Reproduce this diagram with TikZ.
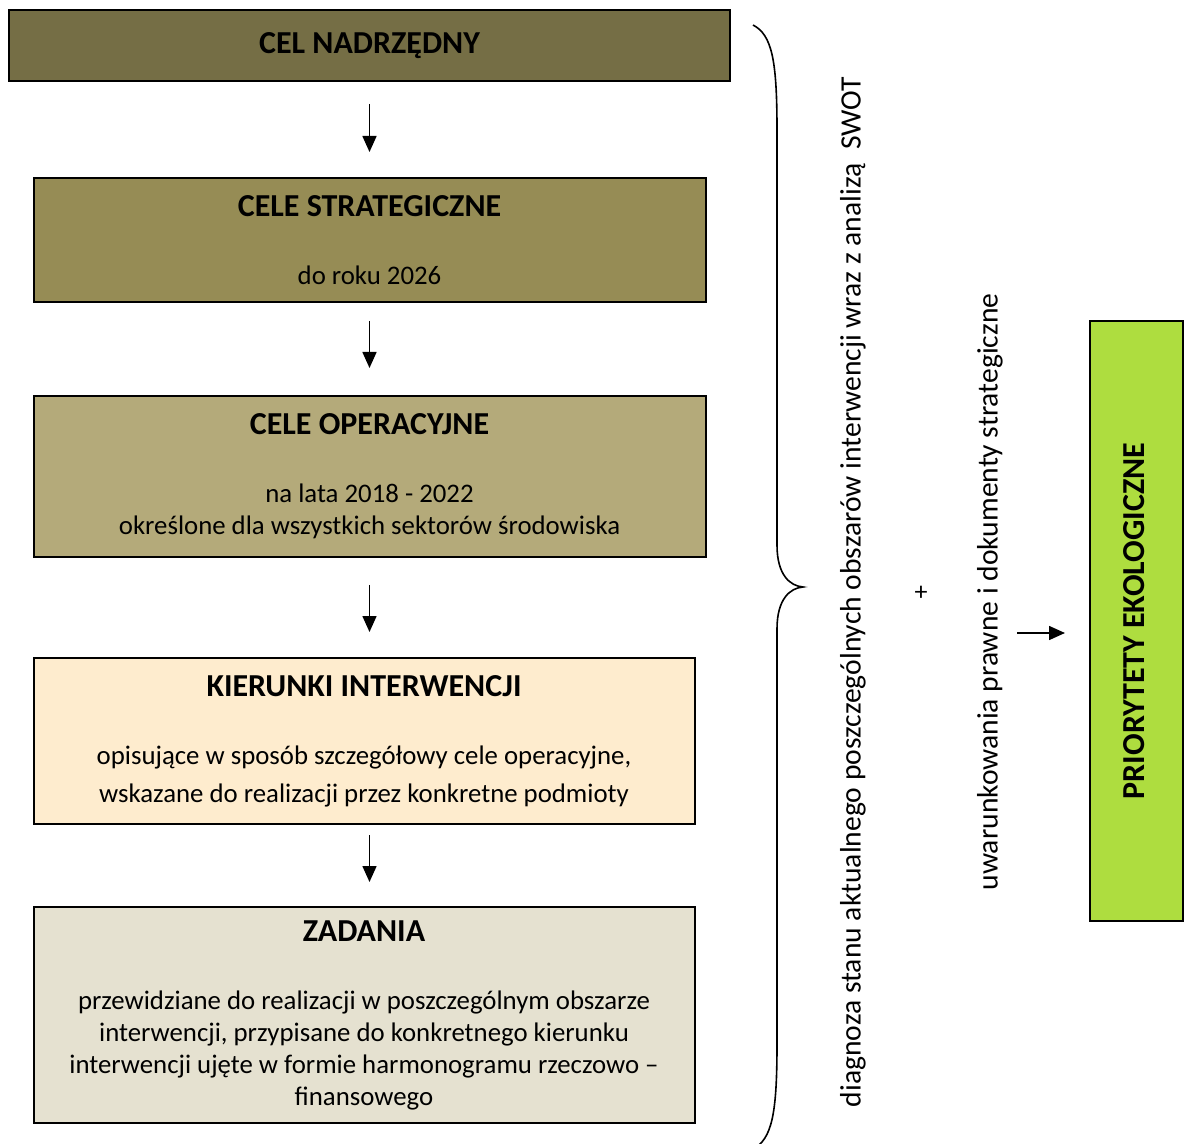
\documentclass[tikz,border=0pt]{standalone}
\usepackage{fontspec}
\setmainfont{Carlito}
\usetikzlibrary{positioning,arrows.meta}
\definecolor{nadrzColor}{RGB}{117,110,69}
\definecolor{strategColor}{RGB}{150,140,85}
\definecolor{operColor}{RGB}{180,170,122}
\definecolor{kierColor}{RGB}{254,236,206}
\definecolor{zadColor}{RGB}{229,225,208}
\definecolor{priorColor}{RGB}{174,221,63}
\newcommand{\boxtitle}[1]{{\fontsize{16}{19}\selectfont\bfseries #1}}
\begin{document}
\begin{tikzpicture}[x=0.5pt, y=-0.5pt,
    box/.style={draw, line width=1pt, inner sep=0pt, outer sep=0pt, align=center, font=\fontsize{13.4}{16}\selectfont},
    arr/.style={-{Triangle[length=8pt,width=7pt]}, line width=0.8pt},
    vtext/.style={rotate=90, font=\fontsize{14.8}{18}\selectfont}]
  \useasboundingbox (0,0) rectangle (1184,1144);

  \node [box, fill=nadrzColor, minimum width=360.5pt, minimum height=35.5pt] (CN) at (369.5,45.5) {\boxtitle{CEL NADRZĘDNY}};
  \node [box, fill=strategColor, minimum width=336pt, minimum height=62pt, below=48.5pt of CN] (CS) {\boxtitle{CELE STRATEGICZNE}\\[18pt] do roku 2026};
  \draw [arr, shorten <=11.5pt, shorten >=13pt] (CN) -- (CS);

  \node [box, fill=operColor, minimum width=336pt, minimum height=80.5pt, below=47pt of CS] (CO) {\boxtitle{CELE OPERACYJNE}\\[18pt] na lata 2018 - 2022\\ określone dla wszystkich sektorów środowiska};
  \draw [arr, shorten <=9.5pt, shorten >=14pt] (CS) -- (CO);

  \node [box, fill=kierColor, minimum width=330.5pt, minimum height=83pt, below=50.5pt of CO, xshift=-2.75pt] (KI) {\boxtitle{KIERUNKI INTERWENCJI}\\[18pt] opisujące w sposób szczegółowy cele operacyjne,\\[3pt] wskazane do realizacji przez konkretne podmioty};
  \draw [arr, shorten <=14pt, shorten >=13pt] (CO) -- (CO |- KI.north);

  \node [box, fill=zadColor, minimum width=330.5pt, minimum height=108pt, below=41.5pt of KI] (ZA) {\boxtitle{ZADANIA}\\[18pt] przewidziane do realizacji w poszczególnym obszarze\\ interwencji, przypisane do konkretnego kierunku\\ interwencji ujęte w formie harmonogramu rzeczowo –\\ finansowego};
  \draw [arr, shorten <=5.5pt, shorten >=12.5pt] (KI.south -| CO) -- (ZA.north -| CO);

  % nawias
  \draw [line width=0.8pt] (753,25) .. controls (772,35) and (777,60) .. (777,130) -- (777,545)
    .. controls (777,575) and (790,586) .. (803,587) .. controls (790,588) and (777,599) .. (777,629)
    -- (777,1044) .. controls (777,1114) and (772,1139) .. (753,1149);

  \node [vtext] (diag) at (853,592) {diagnoza stanu aktualnego poszczególnych obszarów interwencji wraz z analizą\ \ SWOT};
  \node [font=\fontsize{13}{15}\selectfont] (plus) at (921,593) {+};
  \node [vtext] (uwar) at (990,592) {uwarunkowania prawne i dokumenty strategiczne};

  \node [draw, line width=1pt, fill=priorColor, rotate=90, minimum width=300pt, minimum height=46.5pt, inner sep=0pt, font=\fontsize{16}{19}\selectfont\bfseries] (PE) at (1136.5,621) {\raisebox{2.5pt}{PRIORYTETY EKOLOGICZNE}};
  \coordinate (arrStart) at (1017,633);
  \draw [arr, shorten >=12pt] (arrStart) -- (arrStart -| PE.north);
\end{tikzpicture}
\end{document}
